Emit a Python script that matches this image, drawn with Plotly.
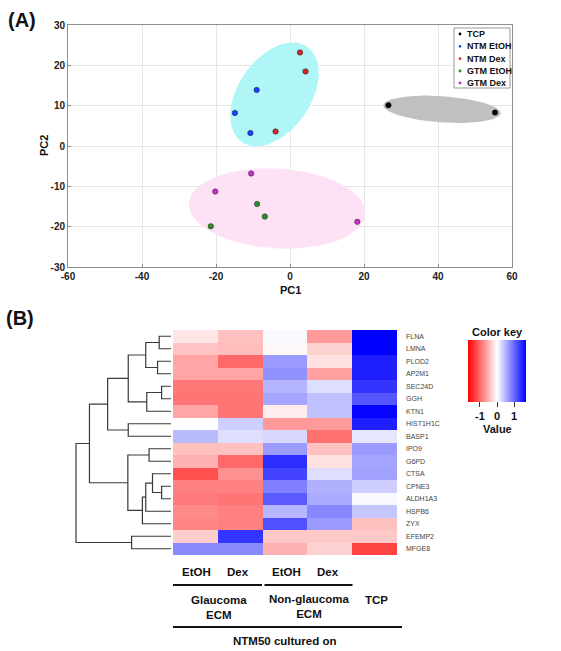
import numpy as np
import plotly.graph_objects as go

W, H = 561, 651
FONT = "Arial, Liberation Sans, sans-serif"


def px(x):
    return x / W


def py(y):
    return 1 - y / H


# ---------------- Panel A data (PCA scores) ----------------
groups = ["TCP", "NTM EtOH", "NTM Dex", "GTM EtOH", "GTM Dex"]
group_colors = ["#000000", "#1f3fff", "#d42a2a", "#2e8b2e", "#c832c8"]

tcp_pc1 = [26.6, 55.4]
tcp_pc2 = [10.1, 8.3]
ntm_etoh_pc1 = [-9.0, -14.9, -10.7]
ntm_etoh_pc2 = [13.9, 8.2, 3.2]
ntm_dex_pc1 = [2.7, 4.2, -3.9]
ntm_dex_pc2 = [23.2, 18.5, 3.6]
gtm_etoh_pc1 = [-8.9, -6.8, -21.4]
gtm_etoh_pc2 = [-14.4, -17.5, -19.9]
gtm_dex_pc1 = [-10.5, -20.2, 18.2]
gtm_dex_pc2 = [-6.8, -11.3, -18.8]

pc1_ticks = [-60, -40, -20, 0, 20, 40, 60]
pc1_labels = ["-60", "-40", "-20", "0", "20", "40", "60"]
pc2_ticks = [-30, -20, -10, 0, 10, 20, 30]
pc2_labels = ["-30", "-20", "-10", "0", "10", "20", "30"]

# cluster ellipses: centre x, centre y, semi-major, semi-minor, angle (deg)
ellipse_ntm = [-4.2, 12.8, 14.8, 9.5, 50.0]
ellipse_tcp = [41.1, 9.1, 15.9, 3.25, -3.6]
ellipse_gtm = [-3.5, -15.5, 23.9, 9.9, -3.0]
ellipse_colors = ["#b0f6f6", "#c0c0c0", "#fde2f6"]

# ---------------- Panel B data (heatmap) ----------------
genes = ["FLNA", "LMNA", "PLOD2", "AP2M1", "SEC24D", "GGH", "KTN1", "HIST1H1C",
         "BASP1", "IPO9", "G6PD", "CTSA", "CPNE3", "ALDH1A3", "HSPB6", "ZYX",
         "EFEMP2", "MFGE8"]
conditions = ["Glaucoma EtOH", "Glaucoma Dex", "Non-glaucoma EtOH",
              "Non-glaucoma Dex", "TCP"]
values = [
    [-0.17, -0.42, 0.05, -0.67, 1.70],
    [-0.40, -0.45, -0.05, -0.30, 1.70],
    [-0.60, -1.00, 0.67, -0.20, 1.50],
    [-0.60, -0.60, 0.74, -0.63, 1.50],
    [-0.90, -0.90, 0.50, 0.22, 1.35],
    [-0.92, -0.92, 0.60, 0.42, 1.13],
    [-0.60, -0.92, -0.12, 0.42, 1.67],
    [0.00, 0.32, -0.67, -0.67, 1.50],
    [0.46, 0.22, 0.26, -0.95, 0.17],
    [-0.42, -0.42, 0.67, -0.42, 0.67],
    [-0.53, -1.00, 1.40, -0.20, 0.60],
    [-1.17, -0.74, 1.25, 0.22, 0.63],
    [-0.85, -0.85, 0.85, 0.53, 0.32],
    [-0.89, -0.92, 1.10, 0.57, 0.05],
    [-0.78, -0.85, 0.48, 0.80, 0.38],
    [-0.82, -0.85, 1.17, 0.67, -0.42],
    [-0.33, 1.35, -0.37, -0.37, -0.37],
    [0.78, 0.78, -0.53, -0.30, -1.25],
]
key_ticks = [-1, 0, 1]
key_labels = ["-1", "0", "1"]
z_limit = 1.7

# row dendrogram linkage: (child a, child b, height); leaves 0..17, clusters 18+
linkage = [
    (0, 1, 1.17), (2, 3, 1.33), (18, 19, 2.5), (4, 5, 0.93), (21, 6, 2.4),
    (20, 22, 4.23), (7, 8, 4.23), (23, 24, 6.27), (9, 10, 2.17), (12, 13, 0.93),
    (11, 27, 1.83), (28, 14, 2.5), (29, 15, 2.83), (26, 30, 4.27), (25, 31, 8.07),
    (16, 17, 3.9), (32, 33, 9.4),
]

fig = go.Figure()


def ellipse(params, n=120):
    cx, cy, a, b, ang = params
    t = np.linspace(0, 2 * np.pi, n)
    th = np.deg2rad(ang)
    x = cx + a * np.cos(t) * np.cos(th) - b * np.sin(t) * np.sin(th)
    y = cy + a * np.cos(t) * np.sin(th) + b * np.sin(t) * np.cos(th)
    return x, y


for params, col in zip([ellipse_ntm, ellipse_tcp, ellipse_gtm], ellipse_colors):
    ex, ey = ellipse(params)
    fig.add_trace(go.Scatter(x=ex, y=ey, mode="lines", fill="toself",
                             fillcolor=col, line=dict(width=0, color=col),
                             hoverinfo="skip", showlegend=False,
                             xaxis="x", yaxis="y"))

series = [(tcp_pc1, tcp_pc2), (ntm_etoh_pc1, ntm_etoh_pc2), (ntm_dex_pc1, ntm_dex_pc2),
          (gtm_etoh_pc1, gtm_etoh_pc2), (gtm_dex_pc1, gtm_dex_pc2)]
for name, col, (xs, ys) in zip(groups, group_colors, series):
    fig.add_trace(go.Scatter(x=xs, y=ys, mode="markers", name=name,
                             marker=dict(size=5.5, color=col,
                                         line=dict(width=0.7, color="rgba(0,0,0,0.55)")),
                             showlegend=False, xaxis="x", yaxis="y"))

# dendrogram
pos = {i: float(i) for i in range(len(genes))}
hgt = {i: 0.0 for i in range(len(genes))}
dx, dy = [], []
for k, (a, b, h) in enumerate(linkage):
    cid = len(genes) + k
    dx += [hgt[a], h, h, hgt[b], None]
    dy += [pos[a], pos[a], pos[b], pos[b], None]
    pos[cid] = (pos[a] + pos[b]) / 2
    hgt[cid] = h
fig.add_trace(go.Scatter(x=dx, y=dy, mode="lines", line=dict(color="#3a3a3a", width=1.2),
                         hoverinfo="skip", showlegend=False, xaxis="x2", yaxis="y2"))

# heatmap
fig.add_trace(go.Heatmap(
    z=values, x=conditions, y=genes, xaxis="x3", yaxis="y3",
    zmin=-z_limit, zmax=z_limit,
    colorscale=[[0, "#ff0000"], [0.5, "#ffffff"], [1, "#0000ff"]],
    colorbar=dict(orientation="h", lenmode="pixels", len=58, thicknessmode="pixels",
                  thickness=62, x=px(497), xanchor="center", y=py(340), yanchor="top",
                  xpad=0, ypad=0, outlinewidth=0, tickvals=key_ticks,
                  ticktext=key_labels, ticks="outside", ticklen=5,
                  tickcolor="#333",
                  tickfont=dict(size=11, color="#111", family=FONT, weight="bold")),
))

axis_font = dict(size=10, color="#222", family=FONT, weight="bold")
fig.update_layout(
    width=W, height=H, margin=dict(l=0, r=0, t=0, b=0, autoexpand=False),
    paper_bgcolor="white", plot_bgcolor="white",
    font=dict(family=FONT),
    xaxis=dict(domain=[px(68), px(512)], anchor="y", range=[-60, 60],
               tickvals=pc1_ticks, ticktext=pc1_labels,
               showgrid=True, gridcolor="#e6e6e6", zeroline=False, showline=True,
               linecolor="#8f8f8f", linewidth=1, mirror=True, ticks="inside",
               ticklen=3, tickcolor="#8f8f8f", tickfont=axis_font, automargin=False),
    yaxis=dict(domain=[py(267), py(25)], anchor="x", range=[-30, 30],
               tickvals=pc2_ticks, ticktext=pc2_labels,
               showgrid=True, gridcolor="#e6e6e6", zeroline=False, showline=True,
               linecolor="#8f8f8f", linewidth=1, mirror=True, ticks="inside",
               ticklen=3, tickcolor="#8f8f8f", tickfont=axis_font, automargin=False),
    xaxis2=dict(domain=[px(66), px(171)], anchor="y2", range=[10.39, 0], visible=False,
                automargin=False),
    yaxis2=dict(domain=[py(555), py(330)], anchor="x2", range=[17.5, -0.5], visible=False,
                automargin=False),
    xaxis3=dict(domain=[px(173), px(397)], anchor="y3", range=[-0.5, 4.5],
                showticklabels=False, showgrid=False, zeroline=False, ticks="",
                automargin=False),
    yaxis3=dict(domain=[py(555), py(330)], anchor="x3", range=[17.5, -0.5], side="right",
                showgrid=False, zeroline=False, ticks="", ticklabelstandoff=8,
                tickfont=dict(size=7, color="#444", family=FONT), automargin=False),
)

ann = []


def text(x, y, s, size, **kw):
    d = dict(x=px(x), y=py(y), xref="paper", yref="paper", text=s, showarrow=False,
             font=dict(size=size, color="#111", family=FONT), xanchor="center",
             yanchor="middle")
    d.update(kw)
    ann.append(d)


text(22, 20, "<b>(A)</b>", 20)
text(20, 318, "<b>(B)</b>", 20)
text(290, 290, "<b>PC1</b>", 11)
text(44, 146, "<b>PC2</b>", 11, textangle=-90)

# legend (manual, compact)
shapes = [dict(type="rect", xref="paper", yref="paper", x0=px(454), x1=px(510),
               y0=py(88), y1=py(28), line=dict(color="#9a9a9a", width=1),
               fillcolor="white", layer="above")]
leg_y = [34, 46.3, 58.7, 71, 83]
for name, col, ly in zip(groups, group_colors, leg_y):
    shapes.append(dict(type="circle", xref="paper", yref="paper", x0=px(458.6),
                       x1=px(461.4), y0=py(ly + 1.4), y1=py(ly - 1.4),
                       fillcolor=col, line=dict(width=0), layer="above"))
    text(465.5, ly, "<b>" + name + "</b>", 9, xanchor="left")

# colour key labels
text(497, 332, "<b>Color key</b>", 11)
text(497, 429, "<b>Value</b>", 11)

# bottom group annotation
text(196, 572, "<b>EtOH</b>", 11.5)
text(238, 572, "<b>Dex</b>", 11.5)
text(286, 572, "<b>EtOH</b>", 11.5)
text(328, 572, "<b>Dex</b>", 11.5)
text(219, 607.5, "<b>Glaucoma<br>ECM</b>", 11.5)
text(309, 606, "<b>Non-glaucoma<br>ECM</b>", 11.5)
text(376, 600, "<b>TCP</b>", 11.5)
text(285, 641, "<b>NTM50 cultured on</b>", 11.5)
for x0, x1, y in [(173, 262, 585), (264.5, 352.5, 585), (173, 402, 627)]:
    shapes.append(dict(type="line", xref="paper", yref="paper", x0=px(x0), x1=px(x1),
                       y0=py(y), y1=py(y), line=dict(color="#111", width=2)))

fig.update_layout(annotations=ann, shapes=shapes)
# the page body has a default 8 px margin; drop it so the figure fills the window
fig.write_html("out.html", config={"displayModeBar": False},
               post_script="document.body.style.margin='0';document.body.style.overflow='hidden';")
